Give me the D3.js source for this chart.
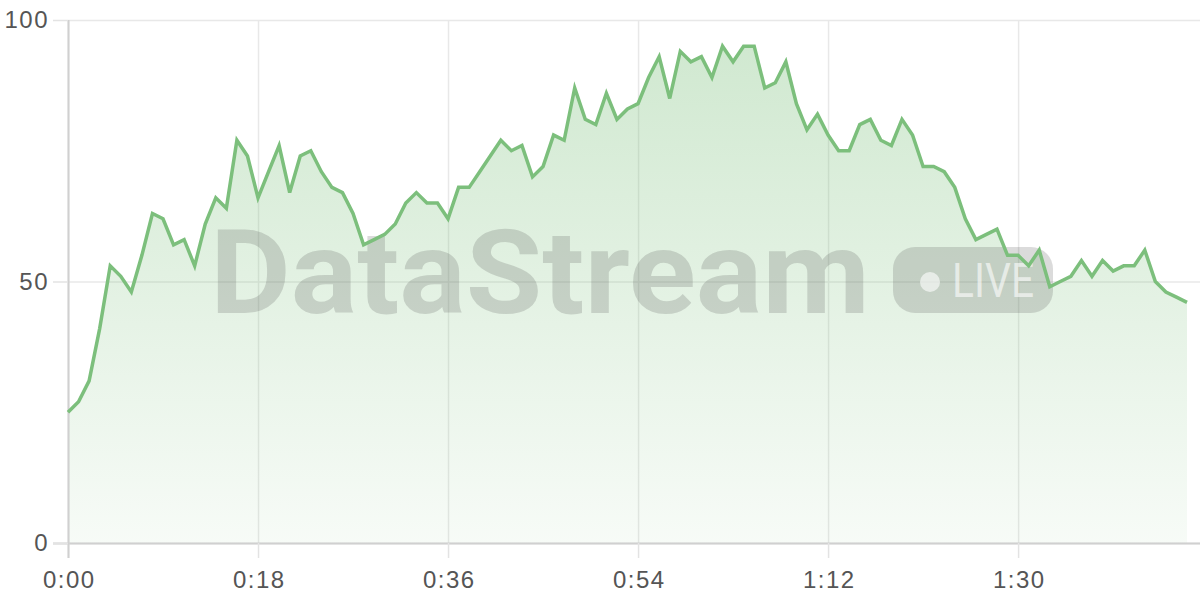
<!DOCTYPE html>
<html>
<head>
<meta charset="utf-8">
<script src="https://cdn.jsdelivr.net/npm/d3@7/dist/d3.min.js"></script>
<style>
  html, body { margin: 0; padding: 0; background: #fff; }
  svg { display: block; }
</style>
</head>
<body>
<svg id="chart" width="1200" height="600"></svg>
<script>
// ---- data ----
const seconds = d3.range(0, 107); // one sample per second, 0:00 .. 1:46
const values = [
  25, 27, 31, 41, 53, 51, 48, 55, 63, 62,
  57, 58, 53, 61, 66, 64, 77, 74, 66, 71,
  76, 67, 74, 75, 71, 68, 67, 63, 57, 58,
  59, 61, 65, 67, 65, 65, 62, 68, 68, 71,
  74, 77, 75, 76, 70, 72, 78, 77, 87, 81,
  80, 86, 81, 83, 84, 89, 93, 85, 94, 92,
  93, 89, 95, 92, 95, 95, 87, 88, 92, 84,
  79, 82, 78, 75, 75, 80, 81, 77, 76, 81,
  78, 72, 72, 71, 68, 62, 58, 59, 60, 55,
  55, 53, 56, 49, 50, 51, 54, 51, 54, 52,
  53, 53, 56, 50, 48, 47, 46
];
const xTicks = [0, 18, 36, 54, 72, 90];
const yTicks = [0, 50, 100];
const watermarkText = "DataStream";
const badgeText = "LIVE";

(function () {
// ---- layout ----
const svg = d3.select("#chart");
const mLeft = 68, mRight = 1200, mTop = 20, mBottom = 543;
const x = d3.scaleLinear().domain([0, 106]).range([mLeft, 1187]);
const y = d3.scaleLinear().domain([0, 100]).range([mBottom, mTop]);
const fmt = s => Math.floor(s / 60) + ":" + String(s % 60).padStart(2, "0");
const data = seconds.map((s, i) => ({ s, v: values[i] }));

// gradient
const defs = svg.append("defs");
const grad = defs.append("linearGradient").attr("id", "areaGrad")
  .attr("gradientUnits", "userSpaceOnUse")
  .attr("x1", 0).attr("x2", 0).attr("y1", mTop).attr("y2", mBottom);
grad.append("stop").attr("offset", "0%").attr("stop-color", "rgb(120,190,120)").attr("stop-opacity", 0.36);
grad.append("stop").attr("offset", "100%").attr("stop-color", "rgb(120,190,120)").attr("stop-opacity", 0.06);

// grid (horizontal)
const gy = svg.append("g").attr("transform", `translate(${mLeft},0)`)
  .call(d3.axisLeft(y).tickValues(yTicks).tickSize(-(mRight - mLeft)).tickFormat(""));
gy.select(".domain").remove();
gy.selectAll("line").attr("stroke", "#e8e8e8").attr("stroke-width", 1.5);

// grid (vertical)
const gx = svg.append("g").attr("transform", `translate(0,${mBottom})`)
  .call(d3.axisBottom(x).tickValues(xTicks).tickSize(-(mBottom - mTop)).tickFormat(""));
gx.select(".domain").remove();
gx.selectAll("line").attr("stroke", "#e8e8e8").attr("stroke-width", 1.5);

// area
svg.append("path").datum(data)
  .attr("fill", "url(#areaGrad)")
  .attr("d", d3.area().x(d => x(d.s)).y0(y(0)).y1(d => y(d.v)));

// watermark
const wm = svg.append("g").attr("fill", "#4a4a4a").attr("fill-opacity", 0.2);
wm.append("text")
  .attr("x", 210).attr("y", 313)
  .attr("font-family", "Roboto, 'Liberation Sans', sans-serif")
  .attr("font-weight", 700)
  .attr("font-size", 117)
  .attr("textLength", 660).attr("lengthAdjust", "spacingAndGlyphs")
  .text(watermarkText);
wm.append("rect").attr("x", 893).attr("y", 247).attr("width", 160).attr("height", 66).attr("rx", 22);
svg.append("circle").attr("cx", 930).attr("cy", 282).attr("r", 10)
  .attr("fill", "#fff").attr("fill-opacity", 0.6);
svg.append("text")
  .attr("x", 952).attr("y", 297)
  .attr("font-family", "Roboto, 'Liberation Sans', sans-serif")
  .attr("font-weight", 400)
  .attr("font-size", 48)
  .attr("textLength", 82).attr("lengthAdjust", "spacingAndGlyphs")
  .attr("fill", "#fff").attr("fill-opacity", 0.6)
  .text(badgeText);

// axes with labels
const ax = svg.append("g").attr("transform", `translate(0,${mBottom})`)
  .call(d3.axisBottom(x).tickValues(xTicks).tickSize(15).tickPadding(13).tickFormat(fmt));
ax.select(".domain").attr("d", `M${mLeft - 15},0.5H${mRight}`).attr("stroke", "#d0d0d0").attr("stroke-width", 2);
ax.selectAll("line").attr("stroke", "#e3e3e3").attr("stroke-width", 1.5);
ax.selectAll("text").attr("fill", "#555").attr("font-size", 24)
  .attr("letter-spacing", 1.5).attr("dx", 0.75)
  .attr("font-family", "'Liberation Sans', Arial, sans-serif");

const ay = svg.append("g").attr("transform", `translate(${mLeft},0)`)
  .call(d3.axisLeft(y).tickValues(yTicks).tickSize(15).tickPadding(4));
ay.select(".domain").attr("d", `M0.5,${mTop}V${mBottom + 15}`).attr("stroke", "#d0d0d0").attr("stroke-width", 2);
ay.selectAll("line").attr("stroke", "#e3e3e3").attr("stroke-width", 1.5);
ay.selectAll("text").attr("fill", "#555").attr("font-size", 24)
  .attr("letter-spacing", 1.5)
  .attr("font-family", "'Liberation Sans', Arial, sans-serif");

// line
svg.append("path").datum(data)
  .attr("fill", "none")
  .attr("stroke", "#7cbf7c")
  .attr("stroke-width", 3.5)
  .attr("stroke-linejoin", "miter")
  .attr("d", d3.line().x(d => x(d.s)).y(d => y(d.v)));
})();
</script>
</body>
</html>
